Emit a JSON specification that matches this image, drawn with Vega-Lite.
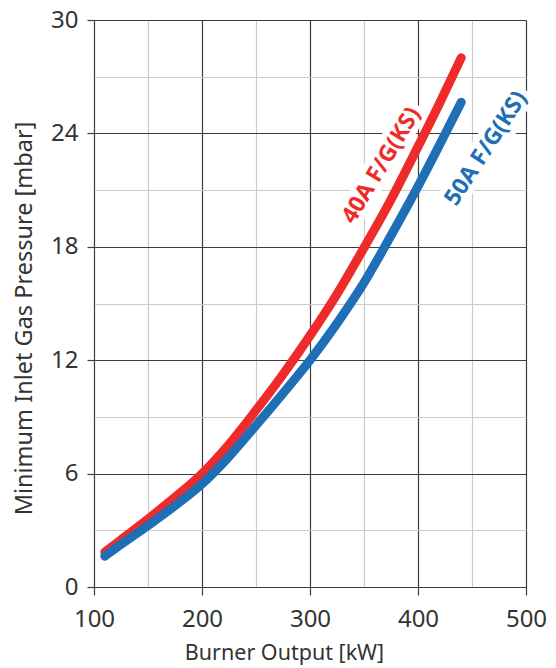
{
  "$schema": "https://vega.github.io/schema/vega-lite/v6.json",
  "width": 432,
  "height": 567,
  "autosize": {"type": "none"},
  "padding": {"left": 94, "top": 20, "right": 30, "bottom": 81},
  "background": "white",
  "config": {
    "view": {"stroke": null},
    "font": "Noto Sans",
    "axis": {
      "labelColor": "#333333",
      "titleColor": "#333333",
      "titleFontWeight": "normal",
      "domainColor": "#3c3c3c",
      "tickColor": "#3c3c3c",
      "labelOverlap": false,
      "labelFlush": false
    }
  },
  "datasets": {
    "curves": [
      {"model": "40A F/G(KS)", "kW": 110, "mbar": 1.85},
      {"model": "40A F/G(KS)", "kW": 125, "mbar": 2.5},
      {"model": "40A F/G(KS)", "kW": 150, "mbar": 3.6},
      {"model": "40A F/G(KS)", "kW": 175, "mbar": 4.75},
      {"model": "40A F/G(KS)", "kW": 200, "mbar": 6.0},
      {"model": "40A F/G(KS)", "kW": 225, "mbar": 7.55},
      {"model": "40A F/G(KS)", "kW": 250, "mbar": 9.35},
      {"model": "40A F/G(KS)", "kW": 275, "mbar": 11.25},
      {"model": "40A F/G(KS)", "kW": 300, "mbar": 13.3},
      {"model": "40A F/G(KS)", "kW": 325, "mbar": 15.5},
      {"model": "40A F/G(KS)", "kW": 350, "mbar": 17.95},
      {"model": "40A F/G(KS)", "kW": 375, "mbar": 20.5},
      {"model": "40A F/G(KS)", "kW": 400, "mbar": 23.3},
      {"model": "40A F/G(KS)", "kW": 420, "mbar": 25.6},
      {"model": "40A F/G(KS)", "kW": 440, "mbar": 28.0},
      {"model": "50A F/G(KS)", "kW": 110, "mbar": 1.63},
      {"model": "50A F/G(KS)", "kW": 125, "mbar": 2.25},
      {"model": "50A F/G(KS)", "kW": 150, "mbar": 3.25},
      {"model": "50A F/G(KS)", "kW": 175, "mbar": 4.3},
      {"model": "50A F/G(KS)", "kW": 200, "mbar": 5.45},
      {"model": "50A F/G(KS)", "kW": 225, "mbar": 6.9},
      {"model": "50A F/G(KS)", "kW": 250, "mbar": 8.55},
      {"model": "50A F/G(KS)", "kW": 275, "mbar": 10.25},
      {"model": "50A F/G(KS)", "kW": 300, "mbar": 12.0},
      {"model": "50A F/G(KS)", "kW": 325, "mbar": 13.95},
      {"model": "50A F/G(KS)", "kW": 350, "mbar": 16.1},
      {"model": "50A F/G(KS)", "kW": 375, "mbar": 18.6},
      {"model": "50A F/G(KS)", "kW": 400, "mbar": 21.2},
      {"model": "50A F/G(KS)", "kW": 420, "mbar": 23.4},
      {"model": "50A F/G(KS)", "kW": 440, "mbar": 25.65}
    ],
    "names": [
      {"model": "40A F/G(KS)", "kW": 366, "mbar": 22.3, "tilt": -59},
      {"model": "50A F/G(KS)", "kW": 463, "mbar": 23.2, "tilt": -57}
    ]
  },
  "encoding": {
    "x": {
      "field": "kW",
      "type": "quantitative",
      "scale": {"domain": [100, 500], "nice": false, "zero": false},
      "axis": {
        "values": [100, 150, 200, 250, 300, 350, 400, 450, 500],
        "grid": true,
        "gridColor": {"condition": {"test": "datum.value % 100 === 0", "value": "#3c3c3c"}, "value": "#cacaca"},
        "gridWidth": 1.2,
        "tickSize": 8,
        "tickWidth": 1.2,
        "tickOpacity": {"condition": {"test": "datum.value % 100 === 0", "value": 1}, "value": 0},
        "labelExpr": "datum.value % 100 === 0 ? datum.label : ''",
        "labelFontSize": 24,
        "labelPadding": 12,
        "title": "Burner Output [kW]",
        "titleFontSize": 21.5,
        "titleX": 190,
        "titleY": 66,
        "titleBaseline": "middle"
      }
    },
    "y": {
      "field": "mbar",
      "type": "quantitative",
      "scale": {"domain": [0, 30], "nice": false},
      "axis": {
        "values": [0, 3, 6, 9, 12, 15, 18, 21, 24, 27, 30],
        "grid": true,
        "gridColor": {"condition": {"test": "datum.value % 6 === 0", "value": "#3c3c3c"}, "value": "#cacaca"},
        "gridWidth": 1.2,
        "tickSize": 7,
        "tickWidth": 1.2,
        "tickOpacity": {"condition": {"test": "datum.value % 6 === 0", "value": 1}, "value": 0},
        "labelExpr": "datum.value % 6 === 0 ? datum.label : ''",
        "labelFontSize": 24,
        "labelPadding": 9,
        "title": "Minimum Inlet Gas Pressure [mbar]",
        "titleFontSize": 23.5,
        "titleX": -70,
        "titleY": 298,
        "titleBaseline": "middle"
      }
    }
  },
  "layer": [
    {
      "data": {"name": "names"},
      "mark": {"type": "text", "fontSize": 23, "fontWeight": "bold", "align": "center", "baseline": "middle", "color": "white", "stroke": "white", "strokeWidth": 12, "strokeJoin": "round"},
      "encoding": {
        "text": {"field": "model"},
        "angle": {"field": "tilt", "type": "quantitative", "scale": null}
      }
    },
    {
      "data": {"name": "curves"},
      "mark": {"type": "line", "strokeWidth": 9, "strokeCap": "round", "strokeJoin": "round", "interpolate": "monotone"},
      "encoding": {
        "color": {
          "field": "model",
          "type": "nominal",
          "scale": {"domain": ["40A F/G(KS)", "50A F/G(KS)"], "range": ["#ee2a2a", "#1e6fb6"]},
          "legend": null
        }
      }
    },
    {
      "data": {"name": "names"},
      "mark": {"type": "text", "fontSize": 23, "fontWeight": "bold", "align": "center", "baseline": "middle"},
      "encoding": {
        "text": {"field": "model"},
        "angle": {"field": "tilt", "type": "quantitative", "scale": null},
        "color": {
          "field": "model",
          "type": "nominal",
          "scale": {"domain": ["40A F/G(KS)", "50A F/G(KS)"], "range": ["#ee2a2a", "#1e6fb6"]},
          "legend": null
        }
      }
    }
  ]
}
